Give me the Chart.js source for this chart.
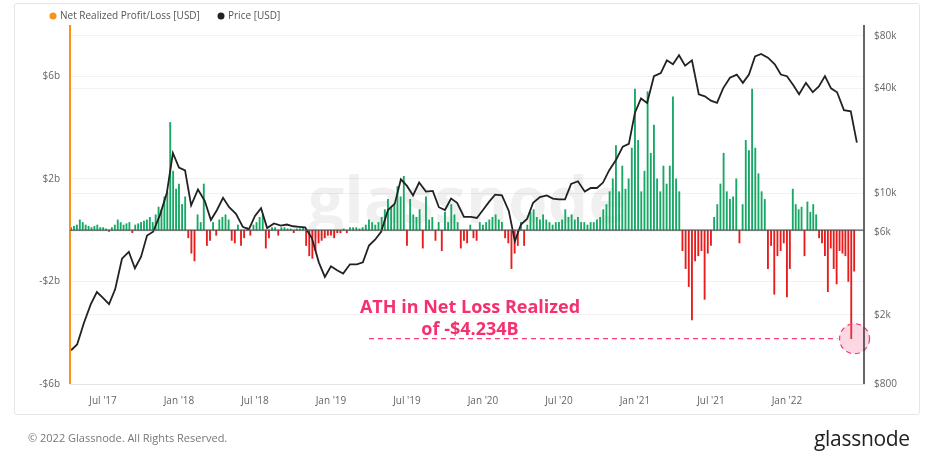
<!DOCTYPE html>
<html><head><meta charset="utf-8">
<script src="https://cdn.jsdelivr.net/npm/chart.js@4"></script>
<style>html,body{margin:0;padding:0;background:#fff}#wrap{position:relative;width:952px;height:451px}
#frame{position:absolute;left:14px;top:3px;width:904px;height:410px;border:1px solid #e6e6e6;border-radius:3px}
#copy{position:absolute;left:28px;top:430px;font:11px "Open Sans",sans-serif;color:#777}
#logo{position:absolute;left:814px;top:424px;font:500 21px "Open Sans",sans-serif;color:#222;letter-spacing:-0.3px}</style>
</head><body><div id="wrap"><div id="frame"></div><canvas id="c" width="952" height="451"></canvas>
<div id="copy">© 2022 Glassnode. All Rights Reserved.</div><div id="logo">glassnode</div></div>
<script>
const xTickValues=[2017.5,2018.0,2018.5,2019.0,2019.5,2020.0,2020.5,2021.0,2021.5,2022.0];
const xTickLabels=["Jul '17","Jan '18","Jul '18","Jan '19","Jul '19","Jan '20","Jul '20","Jan '21","Jul '21","Jan '22"];
const leftTicks=[6,2,-2,-6];
const rightTicks=[80000,40000,10000,6000,2000,800];
const priceDates=[2017.29,2017.33,2017.375,2017.42,2017.46,2017.5,2017.54,2017.58,2017.625,2017.67,2017.71,2017.75,2017.79,2017.83,2017.875,2017.92,2017.96,2018.0,2018.04,2018.08,2018.125,2018.17,2018.21,2018.25,2018.29,2018.33,2018.375,2018.42,2018.46,2018.5,2018.54,2018.58,2018.625,2018.67,2018.71,2018.75,2018.79,2018.83,2018.875,2018.92,2018.96,2019.0,2019.04,2019.08,2019.125,2019.17,2019.21,2019.25,2019.29,2019.33,2019.375,2019.42,2019.46,2019.5,2019.54,2019.58,2019.625,2019.67,2019.71,2019.75,2019.79,2019.83,2019.875,2019.92,2019.96,2020.0,2020.04,2020.08,2020.125,2020.17,2020.21,2020.25,2020.29,2020.33,2020.375,2020.42,2020.46,2020.5,2020.54,2020.58,2020.625,2020.67,2020.71,2020.75,2020.79,2020.83,2020.875,2020.92,2020.96,2021.0,2021.04,2021.08,2021.125,2021.17,2021.21,2021.25,2021.29,2021.33,2021.375,2021.42,2021.46,2021.5,2021.54,2021.58,2021.625,2021.67,2021.71,2021.75,2021.79,2021.83,2021.875,2021.92,2021.96,2022.0,2022.04,2022.08,2022.125,2022.17,2022.21,2022.25,2022.29,2022.33,2022.375,2022.42,2022.46];
const priceValues=[1250,1350,1800,2300,2700,2500,2300,2800,4200,4600,3700,4300,5700,6000,7500,10000,17000,14000,13500,8500,10500,9000,7000,8000,9400,8300,7600,6400,6200,7400,8200,6300,6700,6500,6600,6450,6400,6350,5500,4000,3300,3800,3600,3450,3900,3900,4000,5000,5400,6000,8000,8700,12000,11000,9700,11500,10200,10300,8300,8000,9300,8800,7300,7300,7200,8000,8900,9800,9700,7900,5300,6600,7100,8800,9500,9700,9300,9200,9200,11300,11700,10200,10700,10700,11500,13500,15500,18500,19200,29000,35000,33000,47000,49000,58000,55000,62000,54000,58000,37000,36000,34000,33000,40000,46000,48000,43000,48000,61000,63000,60000,55000,48000,47000,42000,37000,43000,38000,41000,47000,40000,38000,30000,29500,19500];
const nrpl2017=[0.1,0.15,0.2,0.4,0.3,0.2,0.15,0.1,0.15,0.2,0.1,0.1,0.05,-0.05,0.1,0.2,0.4,0.3,0.2,0.25,0.3,-0.1,0.2,0.25,0.3,0.35,0.4,0.5,0.3,0.6,0.9,0.8,1.3,1.5,4.2,2.3,1.6];
const nrpl2018=[1.8,1.0,1.3,-0.3,-0.9,-1.2,0.6,0.3,1.8,-0.6,-0.4,0.3,-0.2,0.4,0.5,0.6,0.4,-0.4,-0.5,0.2,-0.6,-0.3,0.1,-0.2,0.2,0.3,0.5,0.6,-0.7,-0.3,0.1,0.1,-0.2,0.1,0.1,0.05,0.05,-0.1,0.05,0.05,0.1,-0.6,-1.0,-1.1,-0.8,-0.5,-0.4,-0.3,-0.2];
const nrpl2019=[-0.2,-0.3,-0.1,-0.1,0.05,-0.1,0.1,0.1,0.1,0.05,0.1,0.2,0.4,0.3,0.2,0.3,0.5,0.8,1.2,0.9,1.0,1.7,1.3,2.1,-0.6,1.2,0.6,0.5,0.8,-0.7,1.3,0.4,0.5,-0.4,0.3,-0.8,0.7,0.3,1.0,0.6,0.3,-0.7,-0.4,-0.5,0.2,-0.3,-0.4,0.3];
const nrpl2020=[0.2,0.3,0.4,0.5,0.6,0.4,0.3,-0.3,-0.5,-1.5,-0.9,-0.6,0.3,-0.6,0.2,0.7,0.8,0.5,0.4,0.6,0.4,0.3,0.2,0.3,0.3,0.4,0.8,0.5,0.6,0.4,0.5,0.3,0.3,0.2,0.3,0.3,0.4,0.5,0.8,1.0,1.5,2.0,3.3,1.5,2.5,1.6,2.0,3.2];
const nrpl2021=[5.5,3.5,1.5,2.3,5.4,3.0,4.1,2.0,1.5,2.5,1.8,2.5,5.2,2.0,1.5,-0.8,-1.5,-2.2,-3.5,-1.2,-1.0,-0.8,-2.7,-0.9,-0.6,0.5,1.0,1.8,3.0,1.5,1.2,1.3,2.0,-0.5,1.0,3.5,3.1,5.5,3.2,2.2,1.5,1.2,-1.5,-0.6,-2.5,-1.0,-0.8,-0.5];
const nrpl2022=[-2.6,-1.5,1.6,1.0,0.8,0.9,-1.0,1.1,0.7,1.0,0.6,-0.3,-0.5,-1.0,-2.4,-0.7,-1.5,-2.1,-0.8,-0.9,-1.0,-2.0,-4.234,-1.6];
const athValue=-4.234, athDate=2022.425, athLineStart=2019.25;

function seg(arr,start,end){return arr.map((v,i)=>({x:start+(end-start)*i/arr.length,y:v}));}
const nrpl=[].concat(seg(nrpl2017,2017.29,2018),seg(nrpl2018,2018,2019),seg(nrpl2019,2019,2020),seg(nrpl2020,2020,2021),seg(nrpl2021,2021,2022),seg(nrpl2022,2022,2022+nrpl2022.length/52));
const price=priceDates.map((d,i)=>({x:d,y:priceValues[i]}));

const overlay={id:'ov',
 beforeDatasetsDraw(ch){const c=ch.ctx,a=ch.chartArea;c.save();
  c.fillStyle='rgba(0,0,0,0.06)';c.font='bold 64px "Open Sans",sans-serif';c.textAlign='center';c.textBaseline='middle';
  c.fillText('glassnode',(a.left+a.right)/2,205);c.restore();},
 afterDraw(ch){const c=ch.ctx,x=ch.scales.x,y=ch.scales.y;c.save();
  const yy=y.getPixelForValue(athValue),x0=x.getPixelForValue(athLineStart),x1=x.getPixelForValue(athDate);
  c.strokeStyle='#f5407a';c.lineWidth=1.3;c.setLineDash([5,4]);
  c.beginPath();c.moveTo(x0,yy);c.lineTo(x1-14,yy);c.stroke();
  c.fillStyle='rgba(245,100,150,0.25)';c.beginPath();c.arc(x1+3,yy,15,0,Math.PI*2);c.fill();c.stroke();
  c.setLineDash([]);c.fillStyle='#f5306f';c.font='bold 18px "Open Sans",sans-serif';c.textAlign='center';c.textBaseline='middle';
  c.fillText('ATH in Net Loss Realized',470,308);c.fillText('of -$4.234B',470,330);
  c.font='10px "Open Sans",sans-serif';c.textAlign='left';
  c.fillStyle='#f7931a';c.beginPath();c.arc(53,16,3.5,0,7);c.fill();
  c.fillStyle='#555';c.fillText('Net Realized Profit/Loss [USD]',60,16);
  c.fillStyle='#222';c.beginPath();c.arc(221,16,3.5,0,7);c.fill();
  c.fillStyle='#555';c.fillText('Price [USD]',228,16);
  const a=ch.chartArea;c.lineWidth=2;c.strokeStyle='#f7931a';c.beginPath();c.moveTo(a.left,a.top);c.lineTo(a.left,a.bottom);c.stroke();
  c.strokeStyle='#333';c.lineWidth=1.5;c.beginPath();c.moveTo(a.right,a.top);c.lineTo(a.right,a.bottom);c.stroke();
  c.strokeStyle='#555';c.lineWidth=1.2;const z=y.getPixelForValue(0);c.beginPath();c.moveTo(a.left,z);c.lineTo(a.right,z);c.stroke();
  c.restore();}};

new Chart(document.getElementById('c'),{
 data:{datasets:[
  {type:'line',label:'Price [USD]',data:price,yAxisID:'y1',borderColor:'#222',borderWidth:1.8,pointRadius:0,tension:0},
  {type:'bar',label:'Net Realized Profit/Loss [USD]',data:nrpl,yAxisID:'y',barThickness:1.2,
   backgroundColor:nrpl.map(p=>p.y>=0?'#16a864':'#e81c1c'),borderWidth:0}
 ]},
 options:{responsive:false,animation:false,
  layout:{padding:{top:25,bottom:41,left:0,right:0}},
  plugins:{legend:{display:false},tooltip:{enabled:false}},
  scales:{
   x:{type:'linear',min:2017.283,max:2022.507,offset:false,
    afterBuildTicks(s){s.ticks=xTickValues.map(v=>({value:v}));},
    afterFit(s){s.height=26;},
    ticks:{callback:(v)=>xTickLabels[xTickValues.indexOf(v)],color:'#666',font:{size:10,family:'Open Sans'},maxRotation:0,autoSkip:false},
    grid:{display:false},border:{color:'#e3e3e3'}},
   y:{position:'left',min:-6,max:8,
    afterBuildTicks(s){s.ticks=leftTicks.map(v=>({value:v}));},
    afterFit(s){s.width=70;},
    ticks:{callback:v=>(v<0?'-$':'$')+Math.abs(v)+'b',color:'#666',font:{size:10,family:'Open Sans'},padding:10},
    grid:{color:'#f2f2f2',drawTicks:false},border:{display:false}},
   y1:{type:'logarithmic',position:'right',min:800,max:92500,
    afterBuildTicks(s){s.ticks=rightTicks.map(v=>({value:v}));},
    afterFit(s){s.width=88;},
    ticks:{callback:v=>'$'+(v>=1000?v/1000+'k':v),color:'#666',font:{size:10,family:'Open Sans'},padding:10},
    grid:{color:'#f2f2f2',drawTicks:false},border:{display:false}}
  }},
 plugins:[overlay]});
</script></body></html>
